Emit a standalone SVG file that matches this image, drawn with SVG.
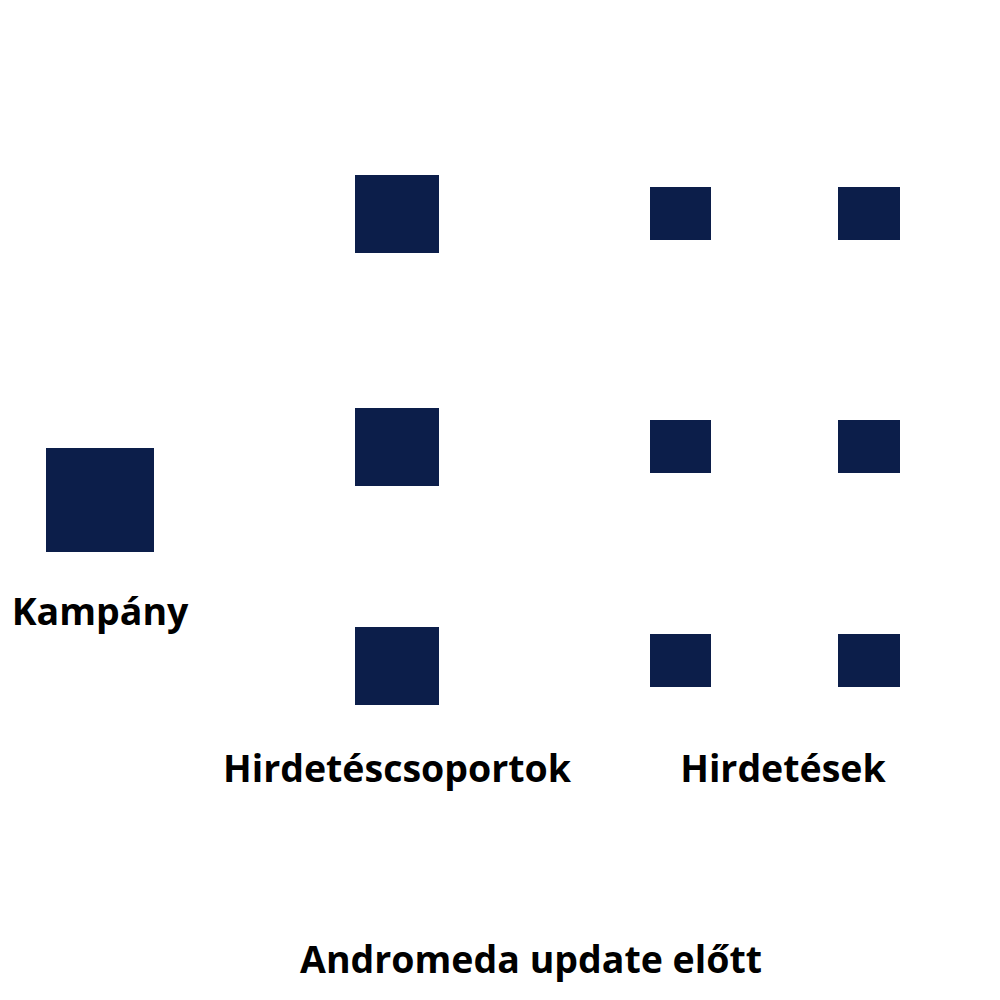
<svg xmlns="http://www.w3.org/2000/svg" width="1000" height="1000" viewBox="0 0 1000 1000">
<style>
.box{fill:#0c1e4a}
.lbl{font-family:"Open Sans","Noto Sans",sans-serif;font-weight:700;font-size:37.5px;fill:#000;text-anchor:middle}
</style>
<rect width="1000" height="1000" fill="#fff"/>
<g id="kampany"><rect class="box" x="46" y="448" width="108" height="104"/></g>
<g id="adgroup1"><rect class="box" x="355" y="175" width="84" height="78"/></g>
<g id="adgroup2"><rect class="box" x="355" y="408" width="84" height="78"/></g>
<g id="adgroup3"><rect class="box" x="355" y="627" width="84" height="78"/></g>
<g id="ad1a"><rect class="box" x="650" y="187" width="61" height="53"/></g>
<g id="ad1b"><rect class="box" x="838" y="187" width="62" height="53"/></g>
<g id="ad2a"><rect class="box" x="650" y="420" width="61" height="53"/></g>
<g id="ad2b"><rect class="box" x="838" y="420" width="62" height="53"/></g>
<g id="ad3a"><rect class="box" x="650" y="634" width="61" height="53"/></g>
<g id="ad3b"><rect class="box" x="838" y="634" width="62" height="53"/></g>
<g id="connectors"></g>
<g id="labels">
<text class="lbl" x="100" y="625">Kampány</text>
<text class="lbl" x="397" y="782">Hirdetéscsoportok</text>
<text class="lbl" x="783" y="782">Hirdetések</text>
<text class="lbl" x="531" y="973">Andromeda update előtt</text>
</g>
</svg>
